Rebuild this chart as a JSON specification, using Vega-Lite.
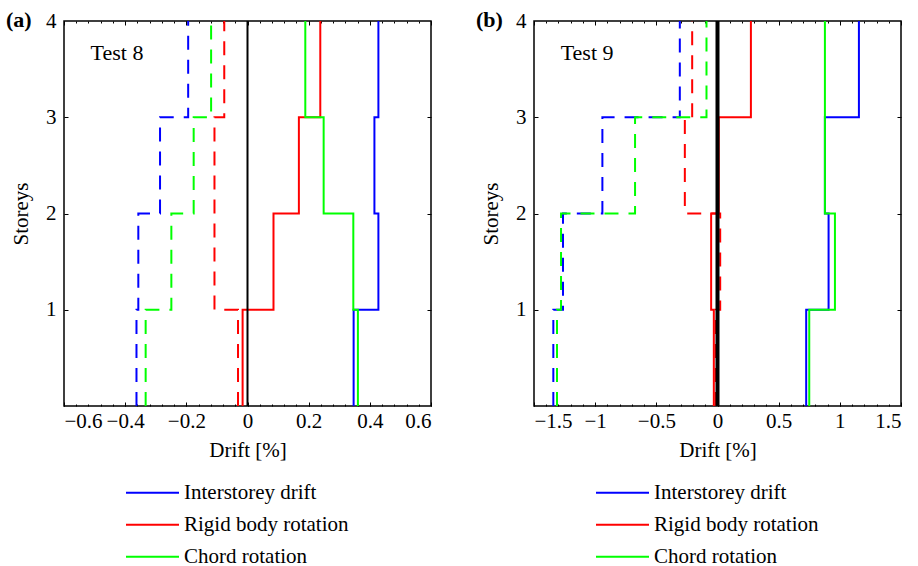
{
  "$schema": "https://vega.github.io/schema/vega-lite/v6.json",
  "padding": {"left": 5, "top": 8, "right": 5, "bottom": 0},
  "datasets": {
    "t8": [
      {"s":"Interstorey drift","k":"min","o":0,"x":-0.363,"y":0},{"s":"Interstorey drift","k":"min","o":1,"x":-0.363,"y":1},{"s":"Interstorey drift","k":"min","o":2,"x":-0.357,"y":1},{"s":"Interstorey drift","k":"min","o":3,"x":-0.357,"y":2},{"s":"Interstorey drift","k":"min","o":4,"x":-0.286,"y":2},{"s":"Interstorey drift","k":"min","o":5,"x":-0.286,"y":3},{"s":"Interstorey drift","k":"min","o":6,"x":-0.194,"y":3},{"s":"Interstorey drift","k":"min","o":7,"x":-0.194,"y":4},
      {"s":"Rigid body rotation","k":"min","o":0,"x":-0.031,"y":0},{"s":"Rigid body rotation","k":"min","o":1,"x":-0.031,"y":1},{"s":"Rigid body rotation","k":"min","o":2,"x":-0.108,"y":1},{"s":"Rigid body rotation","k":"min","o":3,"x":-0.108,"y":2},{"s":"Rigid body rotation","k":"min","o":4,"x":-0.108,"y":2},{"s":"Rigid body rotation","k":"min","o":5,"x":-0.108,"y":3},{"s":"Rigid body rotation","k":"min","o":6,"x":-0.076,"y":3},{"s":"Rigid body rotation","k":"min","o":7,"x":-0.076,"y":4},
      {"s":"Chord rotation","k":"min","o":0,"x":-0.333,"y":0},{"s":"Chord rotation","k":"min","o":1,"x":-0.333,"y":1},{"s":"Chord rotation","k":"min","o":2,"x":-0.249,"y":1},{"s":"Chord rotation","k":"min","o":3,"x":-0.249,"y":2},{"s":"Chord rotation","k":"min","o":4,"x":-0.176,"y":2},{"s":"Chord rotation","k":"min","o":5,"x":-0.176,"y":3},{"s":"Chord rotation","k":"min","o":6,"x":-0.119,"y":3},{"s":"Chord rotation","k":"min","o":7,"x":-0.119,"y":4},
      {"s":"Interstorey drift","k":"max","o":0,"x":0.347,"y":0},{"s":"Interstorey drift","k":"max","o":1,"x":0.347,"y":1},{"s":"Interstorey drift","k":"max","o":2,"x":0.428,"y":1},{"s":"Interstorey drift","k":"max","o":3,"x":0.428,"y":2},{"s":"Interstorey drift","k":"max","o":4,"x":0.415,"y":2},{"s":"Interstorey drift","k":"max","o":5,"x":0.415,"y":3},{"s":"Interstorey drift","k":"max","o":6,"x":0.428,"y":3},{"s":"Interstorey drift","k":"max","o":7,"x":0.428,"y":4},
      {"s":"Rigid body rotation","k":"max","o":0,"x":-0.016,"y":0},{"s":"Rigid body rotation","k":"max","o":1,"x":-0.016,"y":1},{"s":"Rigid body rotation","k":"max","o":2,"x":0.085,"y":1},{"s":"Rigid body rotation","k":"max","o":3,"x":0.085,"y":2},{"s":"Rigid body rotation","k":"max","o":4,"x":0.168,"y":2},{"s":"Rigid body rotation","k":"max","o":5,"x":0.168,"y":3},{"s":"Rigid body rotation","k":"max","o":6,"x":0.238,"y":3},{"s":"Rigid body rotation","k":"max","o":7,"x":0.238,"y":4},
      {"s":"Chord rotation","k":"max","o":0,"x":0.361,"y":0},{"s":"Chord rotation","k":"max","o":1,"x":0.361,"y":1},{"s":"Chord rotation","k":"max","o":2,"x":0.346,"y":1},{"s":"Chord rotation","k":"max","o":3,"x":0.346,"y":2},{"s":"Chord rotation","k":"max","o":4,"x":0.249,"y":2},{"s":"Chord rotation","k":"max","o":5,"x":0.249,"y":3},{"s":"Chord rotation","k":"max","o":6,"x":0.189,"y":3},{"s":"Chord rotation","k":"max","o":7,"x":0.189,"y":4}
    ],
    "t9": [
      {"s":"Interstorey drift","k":"min","o":0,"x":-1.342,"y":0},{"s":"Interstorey drift","k":"min","o":1,"x":-1.342,"y":1},{"s":"Interstorey drift","k":"min","o":2,"x":-1.263,"y":1},{"s":"Interstorey drift","k":"min","o":3,"x":-1.263,"y":2},{"s":"Interstorey drift","k":"min","o":4,"x":-0.941,"y":2},{"s":"Interstorey drift","k":"min","o":5,"x":-0.941,"y":3},{"s":"Interstorey drift","k":"min","o":6,"x":-0.308,"y":3},{"s":"Interstorey drift","k":"min","o":7,"x":-0.308,"y":4},
      {"s":"Rigid body rotation","k":"min","o":0,"x":-0.015,"y":0},{"s":"Rigid body rotation","k":"min","o":1,"x":-0.015,"y":1},{"s":"Rigid body rotation","k":"min","o":2,"x":0.022,"y":1},{"s":"Rigid body rotation","k":"min","o":3,"x":0.022,"y":2},{"s":"Rigid body rotation","k":"min","o":4,"x":-0.267,"y":2},{"s":"Rigid body rotation","k":"min","o":5,"x":-0.267,"y":3},{"s":"Rigid body rotation","k":"min","o":6,"x":-0.207,"y":3},{"s":"Rigid body rotation","k":"min","o":7,"x":-0.207,"y":4},
      {"s":"Chord rotation","k":"min","o":0,"x":-1.312,"y":0},{"s":"Chord rotation","k":"min","o":1,"x":-1.312,"y":1},{"s":"Chord rotation","k":"min","o":2,"x":-1.279,"y":1},{"s":"Chord rotation","k":"min","o":3,"x":-1.279,"y":2},{"s":"Chord rotation","k":"min","o":4,"x":-0.674,"y":2},{"s":"Chord rotation","k":"min","o":5,"x":-0.674,"y":3},{"s":"Chord rotation","k":"min","o":6,"x":-0.09,"y":3},{"s":"Chord rotation","k":"min","o":7,"x":-0.09,"y":4},
      {"s":"Interstorey drift","k":"max","o":0,"x":0.725,"y":0},{"s":"Interstorey drift","k":"max","o":1,"x":0.725,"y":1},{"s":"Interstorey drift","k":"max","o":2,"x":0.908,"y":1},{"s":"Interstorey drift","k":"max","o":3,"x":0.908,"y":2},{"s":"Interstorey drift","k":"max","o":4,"x":0.878,"y":2},{"s":"Interstorey drift","k":"max","o":5,"x":0.878,"y":3},{"s":"Interstorey drift","k":"max","o":6,"x":1.156,"y":3},{"s":"Interstorey drift","k":"max","o":7,"x":1.156,"y":4},
      {"s":"Rigid body rotation","k":"max","o":0,"x":-0.03,"y":0},{"s":"Rigid body rotation","k":"max","o":1,"x":-0.03,"y":1},{"s":"Rigid body rotation","k":"max","o":2,"x":-0.052,"y":1},{"s":"Rigid body rotation","k":"max","o":3,"x":-0.052,"y":2},{"s":"Rigid body rotation","k":"max","o":4,"x":0.01,"y":2},{"s":"Rigid body rotation","k":"max","o":5,"x":0.01,"y":3},{"s":"Rigid body rotation","k":"max","o":6,"x":0.273,"y":3},{"s":"Rigid body rotation","k":"max","o":7,"x":0.273,"y":4},
      {"s":"Chord rotation","k":"max","o":0,"x":0.75,"y":0},{"s":"Chord rotation","k":"max","o":1,"x":0.75,"y":1},{"s":"Chord rotation","k":"max","o":2,"x":0.96,"y":1},{"s":"Chord rotation","k":"max","o":3,"x":0.96,"y":2},{"s":"Chord rotation","k":"max","o":4,"x":0.878,"y":2},{"s":"Chord rotation","k":"max","o":5,"x":0.878,"y":3},{"s":"Chord rotation","k":"max","o":6,"x":0.878,"y":3},{"s":"Chord rotation","k":"max","o":7,"x":0.878,"y":4}
    ]
  },
  "hconcat": [
    {
      "width": 367, "height": 385,
      "title": {"text": "(a)", "anchor": "start", "frame": "group", "dx": -58, "dy": 39, "offset": 0, "baseline": "alphabetic"},
      "layer": [
        {
          "data": {"name": "t8"},
          "mark": {"type": "line", "strokeWidth": 2},
          "encoding": {
            "x": {"field": "x", "type": "quantitative", "scale": {"domain": [-0.6, 0.6], "nice": false, "zero": false},
                  "axis": {"orient": "bottom", "values": [-0.6, -0.4, -0.2, 0, 0.2, 0.4, 0.6], "format": "~g", "ticks": false, "labelPadding": 4, "title": "Drift [%]", "titlePadding": 8}},
            "y": {"field": "y", "type": "quantitative", "scale": {"domain": [0, 4], "nice": false, "zero": false},
                  "axis": {"orient": "left", "values": [1, 2, 3, 4], "ticks": false, "labelPadding": 8, "title": "Storeys", "titlePadding": 14}},
            "color": {"field": "s", "type": "nominal",
                      "scale": {"domain": ["Interstorey drift", "Rigid body rotation", "Chord rotation"], "range": ["#0000ff", "#ff0000", "#00ff00"]},
                      "legend": {"orient": "none", "legendX": 61, "legendY": 456, "title": null}},
            "strokeDash": {"field": "k", "type": "nominal", "scale": {"domain": ["max", "min"], "range": [[1, 0], [14, 10]]}, "legend": null},
            "order": {"field": "o", "type": "quantitative"}
          }
        },
        {
          "data": {"values": [{"z": 0}]},
          "mark": {"type": "rule", "color": "black", "strokeWidth": 2},
          "encoding": {
            "x": {"field": "z", "type": "quantitative", "axis": {"orient": "bottom", "values": [-0.6, -0.4, -0.2, 0, 0.2, 0.4, 0.6], "labels": false, "tickSize": 4, "offset": -4, "title": null}}
          }
        },
        {
          "data": {"values": [{"x": -0.513, "y": 3.6, "t": "Test 8"}]},
          "mark": {"type": "text", "align": "left", "baseline": "alphabetic", "fontSize": 22, "color": "black"},
          "encoding": {
            "x": {"field": "x", "type": "quantitative", "axis": {"orient": "bottom", "values": [-0.6,-0.56,-0.52,-0.48,-0.44,-0.4,-0.36,-0.32,-0.28,-0.24,-0.2,-0.16,-0.12,-0.08,-0.04,0,0.04,0.08,0.12,0.16,0.2,0.24,0.28,0.32,0.36,0.4,0.44,0.48,0.52,0.56,0.6], "labels": false, "tickSize": 2, "offset": -2, "title": null}},
            "y": {"field": "y", "type": "quantitative", "axis": {"orient": "left", "values": [1, 2, 3], "labels": false, "tickSize": 4, "offset": -4, "title": null}},
            "text": {"field": "t"}
          }
        },
        {
          "data": {"name": "t8"},
          "mark": {"type": "point", "opacity": 0},
          "encoding": {
            "x": {"field": "x", "type": "quantitative", "axis": {"orient": "top", "values": [-0.6, -0.4, -0.2, 0, 0.2, 0.4, 0.6], "labels": false, "tickSize": 4, "offset": -4, "title": null}},
            "y": {"field": "y", "type": "quantitative", "axis": {"orient": "right", "values": [1, 2, 3], "labels": false, "tickSize": 4, "offset": -4, "title": null}}
          }
        },
        {
          "data": {"name": "t8"},
          "mark": {"type": "point", "opacity": 0},
          "encoding": {
            "x": {"field": "x", "type": "quantitative", "axis": {"orient": "top", "values": [-0.6,-0.56,-0.52,-0.48,-0.44,-0.4,-0.36,-0.32,-0.28,-0.24,-0.2,-0.16,-0.12,-0.08,-0.04,0,0.04,0.08,0.12,0.16,0.2,0.24,0.28,0.32,0.36,0.4,0.44,0.48,0.52,0.56,0.6], "labels": false, "tickSize": 2, "offset": -2, "title": null}},
            "y": {"field": "y", "type": "quantitative", "axis": null}
          }
        }
      ],
      "resolve": {"axis": {"x": "independent", "y": "independent"}}
    },
    {
      "width": 367, "height": 385,
      "title": {"text": "(b)", "anchor": "start", "frame": "group", "dx": -58, "dy": 39, "offset": 0, "baseline": "alphabetic"},
      "layer": [
        {
          "data": {"name": "t9"},
          "mark": {"type": "line", "strokeWidth": 2},
          "encoding": {
            "x": {"field": "x", "type": "quantitative", "scale": {"domain": [-1.5, 1.5], "nice": false, "zero": false},
                  "axis": {"orient": "bottom", "values": [-1.5, -1, -0.5, 0, 0.5, 1, 1.5], "format": "~g", "ticks": false, "labelPadding": 4, "title": "Drift [%]", "titlePadding": 8}},
            "y": {"field": "y", "type": "quantitative", "scale": {"domain": [0, 4], "nice": false, "zero": false},
                  "axis": {"orient": "left", "values": [1, 2, 3, 4], "ticks": false, "labelPadding": 8, "title": "Storeys", "titlePadding": 14}},
            "color": {"field": "s", "type": "nominal",
                      "scale": {"domain": ["Interstorey drift", "Rigid body rotation", "Chord rotation"], "range": ["#0000ff", "#ff0000", "#00ff00"]},
                      "legend": {"orient": "none", "legendX": 61, "legendY": 456, "title": null}},
            "strokeDash": {"field": "k", "type": "nominal", "scale": {"domain": ["max", "min"], "range": [[1, 0], [14, 10]]}, "legend": null},
            "order": {"field": "o", "type": "quantitative"}
          }
        },
        {
          "data": {"values": [{"z": 0}]},
          "mark": {"type": "rule", "color": "black", "strokeWidth": 4},
          "encoding": {
            "x": {"field": "z", "type": "quantitative", "axis": {"orient": "bottom", "values": [-1.5, -1, -0.5, 0, 0.5, 1, 1.5], "labels": false, "tickSize": 4, "offset": -4, "title": null}}
          }
        },
        {
          "data": {"values": [{"x": -1.282, "y": 3.6, "t": "Test 9"}]},
          "mark": {"type": "text", "align": "left", "baseline": "alphabetic", "fontSize": 22, "color": "black"},
          "encoding": {
            "x": {"field": "x", "type": "quantitative", "axis": {"orient": "bottom", "values": [-1.5,-1.4,-1.3,-1.2,-1.1,-1,-0.9,-0.8,-0.7,-0.6,-0.5,-0.4,-0.3,-0.2,-0.1,0,0.1,0.2,0.3,0.4,0.5,0.6,0.7,0.8,0.9,1,1.1,1.2,1.3,1.4,1.5], "labels": false, "tickSize": 2, "offset": -2, "title": null}},
            "y": {"field": "y", "type": "quantitative", "axis": {"orient": "left", "values": [1, 2, 3], "labels": false, "tickSize": 4, "offset": -4, "title": null}},
            "text": {"field": "t"}
          }
        },
        {
          "data": {"name": "t9"},
          "mark": {"type": "point", "opacity": 0},
          "encoding": {
            "x": {"field": "x", "type": "quantitative", "axis": {"orient": "top", "values": [-1.5, -1, -0.5, 0, 0.5, 1, 1.5], "labels": false, "tickSize": 4, "offset": -4, "title": null}},
            "y": {"field": "y", "type": "quantitative", "axis": {"orient": "right", "values": [1, 2, 3], "labels": false, "tickSize": 4, "offset": -4, "title": null}}
          }
        },
        {
          "data": {"name": "t9"},
          "mark": {"type": "point", "opacity": 0},
          "encoding": {
            "x": {"field": "x", "type": "quantitative", "axis": {"orient": "top", "values": [-1.5,-1.4,-1.3,-1.2,-1.1,-1,-0.9,-0.8,-0.7,-0.6,-0.5,-0.4,-0.3,-0.2,-0.1,0,0.1,0.2,0.3,0.4,0.5,0.6,0.7,0.8,0.9,1,1.1,1.2,1.3,1.4,1.5], "labels": false, "tickSize": 2, "offset": -2, "title": null}},
            "y": {"field": "y", "type": "quantitative", "axis": null}
          }
        }
      ],
      "resolve": {"axis": {"x": "independent", "y": "independent"}}
    }
  ],
  "spacing": 103,
  "bounds": "flush",
  "resolve": {"legend": {"color": "independent"}},
  "config": {
    "font": "Liberation Serif",
    "view": {"stroke": "black", "strokeWidth": 1.5},
    "axis": {"labelFont": "Liberation Serif", "labelFontSize": 21, "labelColor": "black", "titleFont": "Liberation Serif", "titleFontSize": 21, "titleFontWeight": "normal", "titleColor": "black", "grid": false, "domain": false, "tickColor": "black", "tickWidth": 1},
    "legend": {"labelFont": "Liberation Serif", "labelFontSize": 21, "labelColor": "black", "symbolType": "stroke", "symbolSize": 2809, "symbolStrokeWidth": 2, "labelOffset": 4, "rowPadding": 0, "clipHeight": 31.5, "padding": 0, "labelLimit": 400},
    "title": {"font": "Liberation Serif", "fontSize": 22, "fontWeight": "bold", "color": "black"},
    "text": {"font": "Liberation Serif"}
  }
}
